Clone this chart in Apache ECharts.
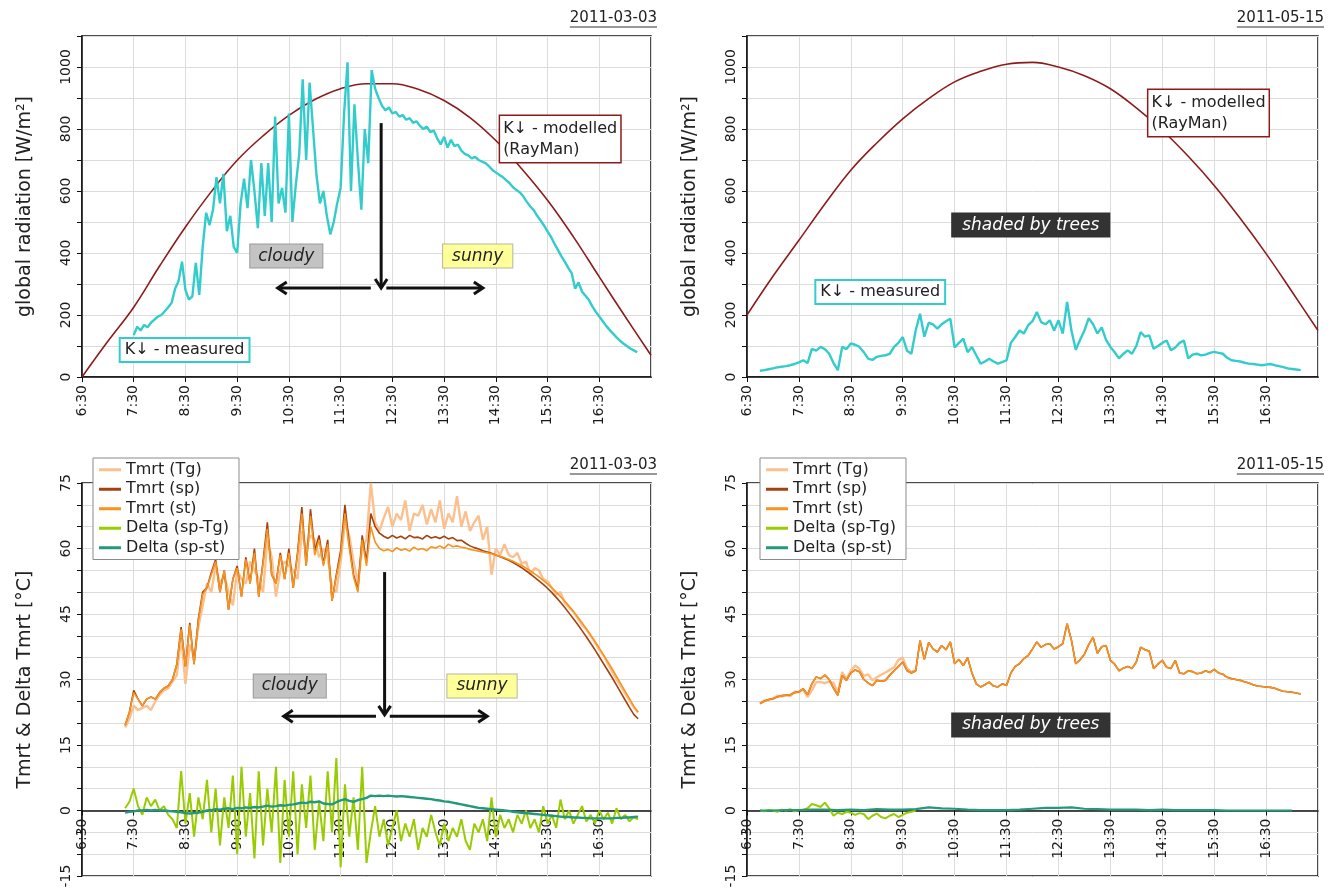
<!DOCTYPE html>
<html>
<head>
<meta charset="utf-8">
<script src="https://cdn.jsdelivr.net/npm/echarts@6/dist/echarts.min.js"></script>
<style>
html, body { margin: 0; padding: 0; background: #fff; }
#chart { width: 1338px; height: 891px; }
</style>
</head>
<body>
<div id="chart"></div>
<script>
// x axis runs in minutes after 6:30, one tick per hour
var timeTicks = ['6:30', '7:30', '8:30', '9:30', '10:30', '11:30', '12:30', '13:30', '14:30', '15:30', '16:30', '17:30'];

// ---- 2011-03-03, global radiation ----
// modelled (RayMan), every 30 min from 6:30
var marModelled = [0, 115, 225, 358, 484, 598, 699, 778, 844, 895, 930, 946, 946, 928, 892, 837, 763, 672, 570, 452, 323, 195, 70];
// measured, every 4 min from 7:30
var marMeasured = [
    135, 162, 150, 168, 160, 175, 185, 195, 200, 212, 225, 240, 285, 310, 372,
    280, 250, 260, 368, 265, 420, 530, 490, 540, 645, 560, 655, 470, 520, 420,
    400, 560, 640, 545, 700, 600, 480, 690, 520, 690, 500, 840, 560, 610, 530,
    850, 500, 620, 720, 960, 700, 950, 800, 650, 560, 600, 520, 460, 500, 560,
    610, 850, 1015, 600, 880, 700, 540, 800, 690, 990, 930, 900, 875, 860, 870,
    850, 855, 840, 845, 830, 835, 820, 825, 810, 800, 808, 790, 795, 770, 750,
    775, 740, 765, 745, 750, 730, 720, 715, 705, 710, 700, 695, 690, 680, 668,
    660, 652, 645, 635, 625, 612, 603, 595, 582, 565, 550, 538, 520, 505, 488,
    470, 452, 430, 410, 390, 372, 352, 335, 285, 305, 275, 262, 248, 228, 210,
    195, 180, 165, 152, 140, 128, 117, 108, 100, 92, 86, 80
];

// ---- 2011-05-15, global radiation ----
var mayModelled = [200, 325, 441, 558, 667, 755, 833, 898, 952, 986, 1009, 1015, 1000, 972, 930, 868, 796, 712, 618, 512, 398, 275, 150];
// measured, every 5 min from 6:45
var mayMeasured = [
    20, 22, 25, 28, 31, 33, 35, 38, 42, 47, 54, 45,
    91, 85, 97, 90, 75, 45, 22, 97, 90, 108, 104, 97,
    80, 59, 55, 65, 68, 70, 75, 97, 110, 129, 85, 75,
    150, 204, 130, 175, 170, 156, 170, 180, 188, 95, 110, 124,
    80, 97, 70, 43, 50, 59, 50, 43, 48, 54, 110, 129,
    150, 140, 167, 180, 210, 177, 170, 183, 150, 183, 140, 242,
    150, 88, 120, 150, 190, 170, 140, 160, 120, 97, 80, 60,
    75, 86, 75, 100, 145, 130, 134, 91, 100, 110, 118, 86,
    95, 110, 118, 60, 72, 75, 70, 72, 78, 81, 78, 75,
    62, 54, 52, 50, 46, 43, 42, 40, 38, 40, 42, 38,
    35, 32, 28, 26, 24, 22
];

// ---- 2011-03-03, Tmrt, every 5 min from 7:20 ----
var marTg = [
    19, 21, 24, 23, 23.5, 24, 23, 25, 26.5, 27.5, 28, 29.5,
    31, 40, 29, 38, 35, 42, 47, 52, 50, 56, 52, 54,
    50, 47, 55, 53, 52, 57, 55, 53, 50, 62, 58, 49,
    55, 57, 56, 55, 53, 64, 60, 63, 62, 58, 60, 58,
    51, 50, 57, 66, 63, 57, 52, 60, 62, 75, 66, 64,
    67, 69.5, 65, 68, 66.5, 71, 64, 68, 67.5, 70, 65.5, 69,
    66, 71, 64.5, 68, 66, 72, 65, 68.5, 64, 66, 67.5, 62,
    65, 54, 60, 58.5, 61, 58.5, 58, 59, 56.5, 57, 54, 55.5,
    55, 53, 52.5, 51, 49.5, 50, 47.5, 46.5, 45.5, 44, 42.5, 41.5,
    40, 38.5, 36.8, 35.5, 33.6, 31.8, 30, 28.5, 26.8, 25.2, 23.6, 22.5
];
var marSp = [
    19.5, 22.5, 27.5, 25.5, 24, 25.5, 26, 25.5, 27, 28, 28.5, 30,
    33.5, 42, 33, 43, 33.5, 44, 50, 51, 54.5, 57.5, 50, 55,
    46, 53, 56, 49, 58, 52, 60, 49, 57, 66, 54, 52,
    59, 53, 60, 51, 59, 69.5, 56, 69, 59.5, 63, 56.5, 62,
    48, 54, 59.5, 70, 61, 54, 50.5, 63, 57, 68, 65, 63.5,
    62.8, 62.3, 63, 62.4, 62.8, 62.2, 63, 62.5, 62.6, 62.2, 63, 62.4,
    62.7, 62.3, 62.8, 62.2, 62.5, 61.8, 61.9, 61.2, 60.6, 60.2, 59.9, 59.5,
    59.2, 58.9, 58.5, 58.1, 57.7, 57.3, 56.8, 56.2, 55.6, 54.9, 54.2, 53.4,
    52.6, 51.8, 50.9, 49.9, 48.8, 47.7, 46.5, 45.2, 43.9, 42.6, 41.2, 39.8,
    38.3, 36.8, 35.2, 33.6, 32, 30.4, 28.7, 27, 25.3, 23.6, 22, 21
];
var marSt = [
    19.5, 22.5, 27, 25.5, 24, 25.5, 26, 25.5, 27, 28, 28.5, 30,
    33.5, 41.5, 33, 42.5, 33.5, 43.5, 49.5, 51, 54, 57, 50, 55,
    46, 53, 55.5, 49, 57.5, 52, 59, 49, 56.5, 64.5, 54, 52,
    58.5, 53, 59, 51, 58.5, 68, 56, 67.5, 58.5, 62, 56, 61,
    48, 53.5, 58.5, 68, 60, 53.5, 50, 62, 56, 65, 61.5, 60,
    59.5, 59.8, 59.3, 60.2, 59.6, 59.9, 59.4, 60.3, 59.7, 60, 59.5, 60.4,
    60.1, 60.6, 60, 61, 60.4, 60.6, 60.3, 60.1, 59.8, 59.6, 59.4, 59.2,
    59, 58.8, 58.5, 58.2, 57.9, 57.5, 57.1, 56.6, 56.1, 55.5, 54.9, 54.2,
    53.5, 52.7, 51.9, 51, 50, 49, 47.9, 46.8, 45.6, 44.3, 43, 41.6,
    40.2, 38.7, 37.2, 35.6, 34, 32.4, 30.7, 29, 27.3, 25.6, 23.9, 22.5
];
var marDeltaTg = [
    0.5, 2, 5, 1, -1, 3, 1, 2.5, 0, 1, -1, -2,
    -4, 9, -3, 4, -6, 3, -2, 7, -5, 5, -8, 3,
    -4, 8, -10, 10, -6, 4, -11, 9, -8, 5, -5, 10,
    -12, 7, -6, 9, -10, 6, -4, 8, -9, 2, -7, 9,
    -5, 12, -13, 6, -6, 3, -9, 10, -12, -5, 1, -6,
    -2, -8, -4, 0, -7, -3, -6, -2, -9, -4, -6, -1,
    -5, -8, -3, -7, -4, -6, -2, -7, -9, -3, -5, -2,
    -7, 3, -6, -1, -4, -2, -5, -1, -3, 0, -4, -2,
    -5, 1, -3, -1, -4, 2.5, -2, 0, -3, -1, 1, -2.5,
    -1, -3, 0, -2, -0.5, -3, 0.5, -2, -1, -2.5, -1.5, -2
];
var marDeltaSt = [
    -0.5, -0.3, -0.2, 0, 0, 0.1, 0, 0.1, 0, 0, -0.1, -0.2,
    -0.3, -0.4, -0.6, -0.7, -0.6, -0.5, -0.3, 0, 0.1, 0.3, 0.2, 0.4,
    0.5, 0.3, 0.6, 0.5, 0.7, 0.6, 0.8, 0.7, 0.9, 1.1, 0.9, 1.0,
    1.2, 1.1, 1.3, 1.4, 1.6, 1.8, 1.7, 2.0, 1.9, 2.1, 1.6, 1.5,
    1.4, 1.9, 2.3, 2.6, 2.2, 2.0, 2.4, 2.6, 2.9, 3.4, 3.3, 3.4,
    3.3, 3.4, 3.3, 3.2, 3.3, 3.2, 3.1, 3.0, 2.9, 2.8, 2.7, 2.6,
    2.4, 2.3, 2.1, 2.0, 1.8, 1.6, 1.4, 1.2, 1.0, 0.8, 0.6, 0.5,
    0.4, 0.3, 0.2, 0.1, 0, -0.1, -0.3, -0.4, -0.5, -0.6, -0.7, -0.8,
    -0.9, -1.0, -1.1, -1.2, -1.3, -1.4, -1.5, -1.5, -1.6, -1.6, -1.7, -1.7,
    -1.8, -1.8, -1.8, -1.8, -1.8, -1.8, -1.7, -1.7, -1.6, -1.6, -1.5, -1.4
];

// ---- 2011-05-15, Tmrt, every 5 min from 6:45 ----
var maySp = [
    24.5, 25, 25.4, 25.6, 26, 26.3, 26.4, 26.5, 27, 27.2, 27.9, 26.5,
    29, 30.6, 30.2, 31, 30, 28, 26.4, 30.9, 29.8, 31.5, 32.2, 31.8,
    30, 29.2, 28.6, 29.8, 29.6, 29.8, 31, 32, 33, 34, 32, 31.5,
    32, 38.9, 34.6, 38.5, 37, 36.3, 37.8, 36.8, 38.6, 33.6, 34.6, 33.2,
    35, 31.5, 29, 28.3, 28.8, 29.4, 28.5, 28.3, 29, 28.6, 31.5, 33,
    33.6, 34.8, 35.5, 37, 38.6, 37.4, 38, 38.2, 37, 37.5, 38.2, 42.8,
    39, 33.6, 34.5, 35.8, 38, 39.7, 36, 37.5, 37.8, 34.4, 33.5, 32,
    32.6, 33, 32.5, 34, 37.4, 36.8, 36.5, 32.5, 33.5, 34.4, 32.8, 32.5,
    34.4, 31.5, 31.3, 32, 31.8, 31.3, 31.5, 32, 31.6, 32.3, 31.5, 31.2,
    30.5, 30.2, 30, 29.8, 29.5, 29.2, 28.8, 28.5, 28.4, 28.3, 28.2, 28,
    27.6, 27.3, 27.2, 27.1, 26.9, 26.7
];
var maySt = maySp; // st lies on top of sp the whole day
var mayTg = [
    24.5, 25.2, 25.3, 25.6, 26.3, 26.1, 26.4, 26.2, 27.2, 27.1, 27.7, 26,
    27.5, 29.4, 29.4, 29.2, 29.5, 29.2, 26.9, 31.7, 30.1, 32, 33.2, 32.4,
    30.8, 31.2, 29.8, 30.5, 31.1, 31.6, 32.2, 32.8, 34.5, 35, 32.5, 31.8,
    32
];
var mayDeltaTg = [
    0, -0.2, 0.1, 0, -0.3, 0.2, 0, 0.3, -0.2, 0.1, 0.2, 0.5,
    1.5, 1.2, 0.8, 1.8, 0.5, -1.2, -0.5, -0.8, -0.3, -0.5, -1, -0.6,
    -0.8, -2, -1.2, -0.7, -1.5, -1.8, -1.2, -0.8, -1.5, -1, -0.5, -0.3,
    0
];
// every 15 min from 6:45
var mayDeltaSt = [0, 0, 0.1, 0.1, 0.2, 0.2, 0.1, 0.2, 0.1, 0.3, 0.2, 0.2, 0.3, 0.7, 0.5, 0.4, 0.2, 0.1, 0.1, 0.1, 0.2, 0.4, 0.6, 0.6, 0.7, 0.4, 0.3, 0.2, 0.2, 0.2, 0.1, 0.2, 0.1, 0.1, 0.1, 0.1, 0, 0, 0, 0, 0, 0];

var FONT = 'DejaVu Sans';
var C = {
    modelled: '#8e1b1b', measured: '#33cccc',
    tg: '#fbc08e', sp: '#a3420f', st: '#f7931e', dTg: '#99cc00', dSt: '#23987a'
};
var GRIDS = [
    {left: 82, top: 36, width: 569, height: 341},
    {left: 747, top: 36, width: 571, height: 341},
    {left: 82, top: 483, width: 569, height: 393},
    {left: 747, top: 483, width: 571, height: 393}
];
var RAD = {min: 0, max: 1100, step: 100, label: 200};
var TMP = {min: -15, max: 75, step: 5, label: 15};

function toMin(hhmm) {
    var p = hhmm.split(':');
    return +p[0] * 60 + +p[1] - 390;
}
function pairs(start, step, vals) {
    var t0 = toMin(start);
    return vals.map(function (v, i) { return [t0 + i * step, v]; });
}

// the x axis sits at y = 0; lift it from the bottom edge by that share of the grid
function timeAxis(gi, yr) {
    var lift = GRIDS[gi].height * (0 - yr.min) / (yr.max - yr.min);
    return {
        type: 'value', gridIndex: gi, min: 0, max: 660, interval: 60,
        offset: -lift,
        axisLine: {onZero: false, lineStyle: {color: '#111', width: 1.5}},
        axisTick: {show: true, length: 5, lineStyle: {color: '#111'}},
        axisLabel: {
            rotate: 90, margin: 8, fontFamily: FONT, fontSize: 14, color: '#1a1a1a',
            showMaxLabel: false,
            formatter: function (v) { return timeTicks[Math.round(v / 60)]; }
        },
        splitLine: {show: true, lineStyle: {color: '#dcdcdc', width: 1}}
    };
}
function valueAxis(gi, name, yr) {
    return {
        type: 'value', gridIndex: gi, min: yr.min, max: yr.max, interval: yr.step,
        name: name, nameLocation: 'middle', nameRotate: 90, nameGap: 47,
        nameTextStyle: {fontFamily: FONT, fontSize: 19, color: '#222'},
        axisLine: {show: true, onZero: false, lineStyle: {color: '#111', width: 1.5}},
        axisTick: {show: true, length: 5, lineStyle: {color: '#111'}},
        axisLabel: {
            rotate: 90, margin: 9, fontFamily: FONT, fontSize: 14, color: '#1a1a1a',
            formatter: function (v) { return v % yr.label === 0 ? String(v) : ''; }
        },
        splitLine: {show: true, lineStyle: {color: '#dcdcdc', width: 1}}
    };
}
function line(name, gi, data, color, width, smooth) {
    return {
        name: name, type: 'line', xAxisIndex: gi, yAxisIndex: gi, data: data,
        showSymbol: false, smooth: smooth || false, color: color,
        lineStyle: {color: color, width: width}, silent: true
    };
}
function frame(g) {
    return {left: g.left, top: g.top, width: g.width, height: g.height, show: true,
        outerBoundsMode: 'none', containLabel: false,
        borderColor: '#111', borderWidth: 1.5, backgroundColor: 'transparent'};
}

var legendNames = ['Tmrt (Tg)', 'Tmrt (sp)', 'Tmrt (st)', 'Delta (sp-Tg)', 'Delta (sp-st)'];
function legendAt(left) {
    return {
        left: left, top: 458, orient: 'vertical', icon: 'rect', itemWidth: 22, itemHeight: 3,
        itemGap: 2, padding: [3, 10, 3, 6], backgroundColor: '#fff', borderColor: '#8a8a8a',
        borderWidth: 1, selectedMode: false, data: legendNames,
        textStyle: {fontFamily: FONT, fontSize: 16, color: '#222', lineHeight: 17.5}
    };
}

var chart = echarts.init(document.getElementById('chart'));
var option = {
    animation: false,
    backgroundColor: '#fff',
    grid: GRIDS.map(frame),
    xAxis: [timeAxis(0, RAD), timeAxis(1, RAD), timeAxis(2, TMP), timeAxis(3, TMP)],
    yAxis: [
        valueAxis(0, 'global radiation [W/m²]', RAD),
        valueAxis(1, 'global radiation [W/m²]', RAD),
        valueAxis(2, 'Tmrt & Delta Tmrt [°C]', TMP),
        valueAxis(3, 'Tmrt & Delta Tmrt [°C]', TMP)
    ],
    legend: [legendAt(93), legendAt(760)],
    series: [
        line('K modelled', 0, pairs('6:30', 30, marModelled), C.modelled, 1.6, 0.4),
        line('K measured', 0, pairs('7:30', 4, marMeasured), C.measured, 2.4),
        line('K modelled', 1, pairs('6:30', 30, mayModelled), C.modelled, 1.6, 0.4),
        line('K measured', 1, pairs('6:45', 5, mayMeasured), C.measured, 2.4),
        line('Tmrt (Tg)', 2, pairs('7:20', 5, marTg), C.tg, 2.4),
        line('Tmrt (sp)', 2, pairs('7:20', 5, marSp), C.sp, 1.6),
        line('Tmrt (st)', 2, pairs('7:20', 5, marSt), C.st, 1.6),
        line('Delta (sp-Tg)', 2, pairs('7:20', 5, marDeltaTg), C.dTg, 2),
        line('Delta (sp-st)', 2, pairs('7:20', 5, marDeltaSt), C.dSt, 2.4),
        line('Tmrt (Tg)', 3, pairs('6:45', 5, mayTg), C.tg, 2.4),
        line('Tmrt (sp)', 3, pairs('6:45', 5, maySp), C.sp, 1.6),
        line('Tmrt (st)', 3, pairs('6:45', 5, maySt), C.st, 1.6),
        line('Delta (sp-Tg)', 3, pairs('6:45', 5, mayDeltaTg), C.dTg, 2),
        line('Delta (sp-st)', 3, pairs('6:45', 15, mayDeltaSt), C.dSt, 2.2)
    ]
};
chart.setOption(option);

// ---- annotations, anchored in data units ----
function px(gi, t, v) { return chart.convertToPixel({gridIndex: gi}, [toMin(t), v]); }

var boxStyles = {
    cloudy: {font: 'italic 17px "DejaVu Sans"', fill: '#222', backgroundColor: '#c3c3c3', borderColor: '#9a9a9a', borderWidth: 1, padding: [3, 8]},
    sunny: {font: 'italic 17px "DejaVu Sans"', fill: '#222', backgroundColor: '#ffff99', borderColor: '#b5b5a0', borderWidth: 1, padding: [3, 9]},
    shade: {font: 'italic 17px "DejaVu Sans"', fill: '#fff', backgroundColor: '#333', borderColor: '#333', borderWidth: 1, padding: [3, 10]},
    measured: {font: '16px "DejaVu Sans"', fill: '#222', backgroundColor: '#fff', borderColor: C.measured, borderWidth: 2, padding: [3, 4]},
    modelled: {font: '16px "DejaVu Sans"', fill: '#222', backgroundColor: '#fff', borderColor: C.modelled, borderWidth: 1.5, padding: [2, 3], lineHeight: 21}
};
var boxes = [
    {g: 0, t: '10:27', v: 390, text: 'cloudy', s: 'cloudy'},
    {g: 0, t: '14:09', v: 390, text: 'sunny', s: 'sunny'},
    {g: 0, t: '8:29', v: 87, text: 'K↓ - measured', s: 'measured'},
    {g: 0, t: '14:35', v: 842, text: 'K↓ - modelled\n(RayMan)', s: 'modelled', corner: true},
    {g: 1, t: '11:58', v: 490, text: 'shaded by trees', s: 'shade'},
    {g: 1, t: '9:04', v: 274, text: 'K↓ - measured', s: 'measured'},
    {g: 1, t: '14:14', v: 926, text: 'K↓ - modelled\n(RayMan)', s: 'modelled', corner: true},
    {g: 2, t: '10:31', v: 28.5, text: 'cloudy', s: 'cloudy'},
    {g: 2, t: '14:14', v: 28.5, text: 'sunny', s: 'sunny'},
    {g: 3, t: '11:58', v: 19.6, text: 'shaded by trees', s: 'shade'}
];
var arrows = [
    {g: 0, from: ['12:17', 819], to: ['12:17', 287]},
    {g: 0, from: ['12:05', 287], to: ['10:17', 287]},
    {g: 0, from: ['12:23', 287], to: ['14:15', 287]},
    {g: 2, from: ['12:21', 54.6], to: ['12:21', 21.9]},
    {g: 2, from: ['12:11', 21.6], to: ['10:24', 21.6]},
    {g: 2, from: ['12:27', 21.6], to: ['14:20', 21.6]}
];
var dates = [{g: 0, text: '2011-03-03'}, {g: 1, text: '2011-05-15'}, {g: 2, text: '2011-03-03'}, {g: 3, text: '2011-05-15'}];

var graphics = [];
boxes.forEach(function (b) {
    var p = px(b.g, b.t, b.v);
    var st = Object.assign({text: b.text}, boxStyles[b.s]);
    if (b.corner) { st.align = 'left'; st.verticalAlign = 'top'; }
    else { st.align = 'center'; st.verticalAlign = 'middle'; }
    graphics.push({type: 'text', x: p[0], y: p[1], z: 100, style: st});
});
arrows.forEach(function (a) {
    var p1 = px(a.g, a.from[0], a.from[1]);
    var p2 = px(a.g, a.to[0], a.to[1]);
    var dx = p2[0] - p1[0], dy = p2[1] - p1[1];
    var len = Math.sqrt(dx * dx + dy * dy);
    var ux = dx / len, uy = dy / len, h = 9, w = 6;
    graphics.push({type: 'line', z: 100, shape: {x1: p1[0], y1: p1[1], x2: p2[0] - ux * 1.5, y2: p2[1] - uy * 1.5},
        style: {stroke: '#111', lineWidth: 3}});
    graphics.push({type: 'polyline', z: 100, shape: {points: [
        [p2[0] - ux * h - uy * w, p2[1] - uy * h + ux * w], [p2[0], p2[1]], [p2[0] - ux * h + uy * w, p2[1] - uy * h - ux * w]]},
        style: {stroke: '#111', lineWidth: 3, fill: null, lineJoin: 'miter'}});
});
var ctx = document.createElement('canvas').getContext('2d');
ctx.font = '15px "DejaVu Sans"';
dates.forEach(function (d) {
    var g = GRIDS[d.g];
    var right = g.left + g.width + 6, y = g.top - 18;
    var wd = ctx.measureText(d.text).width;
    graphics.push({type: 'text', x: right, y: y, z: 100,
        style: {text: d.text, font: '15px "DejaVu Sans"', fill: '#222', align: 'right', verticalAlign: 'middle'}});
    graphics.push({type: 'line', z: 100, shape: {x1: right - wd, y1: y + 9, x2: right, y2: y + 9},
        style: {stroke: '#333', lineWidth: 1}});
});
chart.setOption({graphic: graphics});
</script>
</body>
</html>
